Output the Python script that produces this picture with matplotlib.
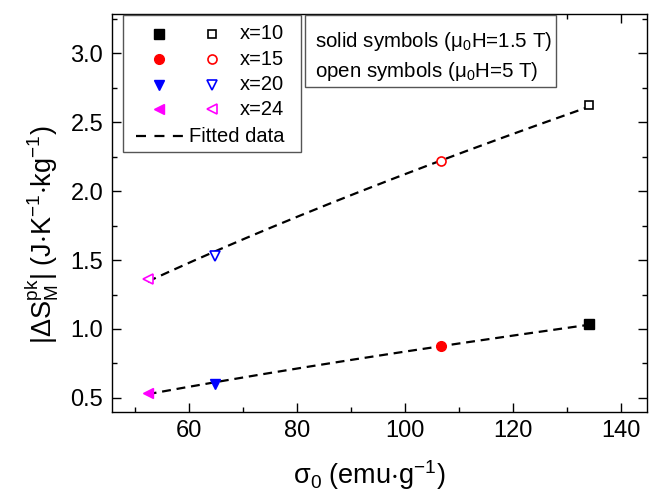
import numpy as np
import matplotlib
matplotlib.use("Agg")
import matplotlib.pyplot as plt
from matplotlib.patches import Rectangle
from matplotlib.ticker import MultipleLocator, FormatStrFormatter

plt.rcParams['font.family'] = ['Liberation Sans', 'DejaVu Sans']
plt.rcParams['mathtext.fontset'] = 'custom'
plt.rcParams['mathtext.rm'] = 'Liberation Sans'
plt.rcParams['mathtext.it'] = 'Liberation Sans'
plt.rcParams['mathtext.default'] = 'regular'

# data
compositions = ["x=10", "x=15", "x=20", "x=24"]
sigma0 = [134.2, 106.7, 64.8, 52.4]
ds_low_field = [1.035, 0.877, 0.598, 0.537]   # mu0H = 1.5 T
ds_high_field = [2.628, 2.218, 1.530, 1.366]  # mu0H = 5 T
colors = ["black", "red", "blue", "magenta"]
markers = ["s", "o", "v", "<"]
sizes = [6.5, 7, 7.5, 7.5]

fig = plt.figure(figsize=(6.54, 4.94), dpi=100)
fig.subplots_adjust(left=0.1705, right=0.9893, top=0.9717, bottom=0.1666)
ax = fig.add_subplot(111)

# fitted curves (power law through each field series)
xs = np.linspace(min(sigma0), max(sigma0), 200)
for ys in (ds_low_field, ds_high_field):
    n, loga = np.polyfit(np.log(sigma0), np.log(ys), 1)
    ax.plot(xs, np.exp(loga) * xs ** n, color="black", lw=1.6,
            dashes=(4, 2.6), zorder=2)

for i in range(len(compositions)):
    ax.plot(sigma0[i], ds_low_field[i], ls="none", marker=markers[i],
            ms=sizes[i], color=colors[i], zorder=3)
    ax.plot(sigma0[i], ds_high_field[i], ls="none", marker=markers[i],
            ms=sizes[i] - 0.5, mfc="white", mec=colors[i], mew=1.2, zorder=3)

ax.set_xlim(45.7, 144.9)
ax.set_ylim(0.4, 3.285)
ax.xaxis.set_major_locator(MultipleLocator(20))
ax.xaxis.set_minor_locator(MultipleLocator(10))
ax.yaxis.set_major_locator(MultipleLocator(0.5))
ax.yaxis.set_minor_locator(MultipleLocator(0.25))
ax.yaxis.set_major_formatter(FormatStrFormatter('%.1f'))
ax.tick_params(which="both", direction="in", top=True, right=True,
               width=1.0, labelsize=17)
ax.tick_params(which="major", length=6.5, pad=6)
ax.tick_params(which="minor", length=3.6)
for s in ax.spines.values():
    s.set_linewidth(1.0)

ax.set_xlabel(r"$\sigma_0$ (emu$\cdot$g$^{-1}$)", fontsize=19.5, va="top")
ax.xaxis.set_label_coords(0.482, -0.116)
ax.set_ylabel(r"|$\Delta$S$^{pk}_{M}$| (J$\cdot$K$^{-1}$$\cdot$kg$^{-1}$)",
              fontsize=19.5)
ax.yaxis.set_label_coords(-0.095, 0.444)

# hand-made legend box
ax.add_patch(Rectangle((0.021, 0.654), 0.332, 0.343, transform=ax.transAxes,
                       fill=True, fc="white", ec="#555555", lw=1.0, zorder=4))
row_y = [0.950, 0.886, 0.822, 0.760]
for i in range(len(compositions)):
    ax.plot(0.0887, row_y[i], transform=ax.transAxes, ls="none",
            marker=markers[i], ms=sizes[i], color=colors[i], zorder=5,
            clip_on=False)
    ax.plot(0.187, row_y[i], transform=ax.transAxes, ls="none",
            marker=markers[i], ms=sizes[i] - 0.5, mfc="white", mec=colors[i],
            mew=1.2, zorder=5, clip_on=False)
    ax.text(0.240, row_y[i], compositions[i], transform=ax.transAxes,
            fontsize=14.5, va="center", ha="left", zorder=5)
ax.plot([0.0458, 0.133], [0.693, 0.693], transform=ax.transAxes,
        color="black", lw=1.6, dashes=(4.5, 3.8), zorder=5)
ax.text(0.145, 0.693, "Fitted data", transform=ax.transAxes,
        fontsize=14.5, va="center", ha="left", zorder=5)

# field note box
ax.add_patch(Rectangle((0.361, 0.817), 0.469, 0.180, transform=ax.transAxes,
                       fill=True, fc="white", ec="#555555", lw=1.0, zorder=4))
ax.text(0.380, 0.930, r"solid symbols ($\mu_0$H=1.5 T)", transform=ax.transAxes,
        fontsize=14.8, va="center", ha="left", zorder=5)
ax.text(0.380, 0.855, r"open symbols ($\mu_0$H=5 T)", transform=ax.transAxes,
        fontsize=14.8, va="center", ha="left", zorder=5)

fig.savefig("out.png", dpi=100)
